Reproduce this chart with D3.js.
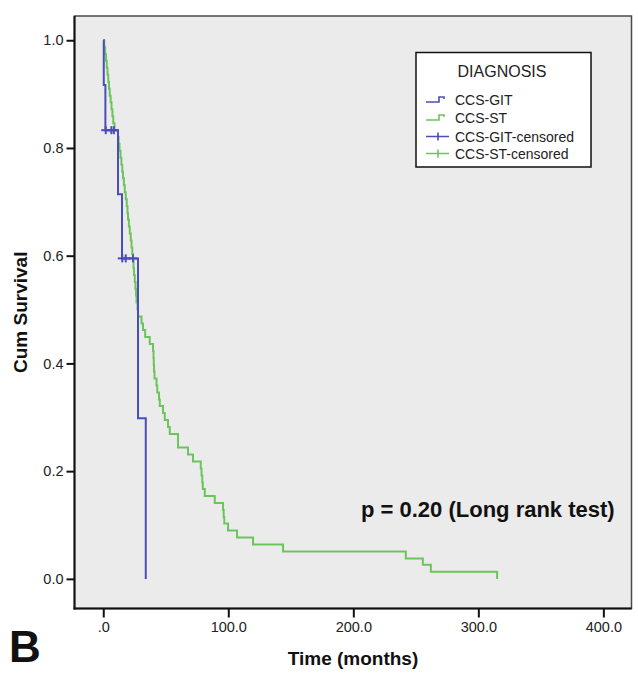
<!DOCTYPE html>
<html>
<head>
<meta charset="utf-8">
<script src="https://cdn.jsdelivr.net/npm/d3@7"></script>
<style>
  html, body { margin: 0; padding: 0; background: #ffffff; }
  svg { display: block; font-family: Arial, "Liberation Sans", Helvetica, sans-serif; }
</style>
</head>
<body>
<svg id="chart" width="638" height="673"></svg>
<script>
// Kaplan-Meier survival by diagnosis group

const groups = ["CCS-GIT", "CCS-ST"];
const legendLabels = ["CCS-GIT", "CCS-ST", "CCS-GIT-censored", "CCS-ST-censored"];

// CCS-GIT: step times (months) and survival after each step
const gitTimes = [0, 0.4, 1.7, 11.8, 15.0, 27.8, 34.0];
const gitSurv  = [1.0, 0.917, 0.833, 0.714, 0.595, 0.298, 0.0];
// CCS-GIT censored observations
const gitCensorTimes = [2.0, 6.5, 8.5, 15.2, 18.0, 23.8];
const gitCensorSurv  = [0.833, 0.833, 0.833, 0.595, 0.595, 0.595];

// CCS-ST: step times (months) and survival after each step
const stTimes = [0, 0.8, 1.5, 2.2, 2.8, 3.4, 4.0, 4.6, 5.2, 5.9, 6.6, 7.3, 8.0, 9.0,
  11.8, 12.3, 13.0, 13.8, 14.5, 15.2, 15.8, 16.5, 17.2, 18.0, 18.8, 19.4, 19.8,
  20.5, 21.2, 22.0, 22.6, 23.2, 23.8, 24.2, 24.6, 25.2, 25.8, 26.2, 26.6, 27.4, 27.8,
  30.6, 31.8, 33.5, 37.2, 39.8, 40.2, 40.4, 40.6, 41.0, 42.6, 43.2, 44.6, 45.2,
  47.8, 49.2, 51.8, 53.2, 59.8, 67.8, 71.8, 78.0, 78.6, 79.2, 79.6, 81.2, 89.2,
  95.8, 96.3, 96.8, 99.8, 107.0, 119.8, 143.8, 242.0, 255.6, 262.0, 315.0];
const stSurv = [1.0, 0.987, 0.974, 0.962, 0.949, 0.936, 0.923, 0.910, 0.897, 0.885, 0.872, 0.859, 0.846, 0.833,
  0.821, 0.808, 0.795, 0.782, 0.769, 0.756, 0.744, 0.731, 0.718, 0.705, 0.692, 0.679, 0.667,
  0.654, 0.641, 0.628, 0.615, 0.603, 0.590, 0.577, 0.564, 0.551, 0.538, 0.526, 0.513, 0.500, 0.487,
  0.474, 0.462, 0.449, 0.436, 0.423, 0.410, 0.397, 0.385, 0.372, 0.359, 0.346, 0.333, 0.321,
  0.308, 0.295, 0.282, 0.269, 0.244, 0.231, 0.218, 0.205, 0.192, 0.179, 0.167, 0.154, 0.141,
  0.128, 0.115, 0.103, 0.090, 0.077, 0.064, 0.051, 0.038, 0.026, 0.013, 0.0];

// Axis ticks
const xTicks = [0, 100, 200, 300, 400];
const xTickLabels = [".0", "100.0", "200.0", "300.0", "400.0"];
const yTicks = [0, 0.2, 0.4, 0.6, 0.8, 1.0];
const yTickLabels = ["0.0", "0.2", "0.4", "0.6", "0.8", "1.0"];

const colors = { "CCS-GIT": "#4b4db8", "CCS-ST": "#6cc55c" };

const svg = d3.select("#chart");

// plot frame in pixels
const frame = { left: 74.5, right: 631.5, top: 16, bottom: 608.5 };

const x = d3.scaleLinear().domain([-23, 422.5]).range([frame.left, frame.right]);
const y = d3.scaleLinear().domain([-0.055, 1.045]).range([frame.bottom, frame.top]);

// plot background
svg.append("rect")
  .attr("x", frame.left).attr("y", frame.top)
  .attr("width", frame.right - frame.left).attr("height", frame.bottom - frame.top)
  .attr("fill", "#ebebeb")
  .attr("stroke", "#4a4a4a").attr("stroke-width", 1.5);

// axes
const xAxis = d3.axisBottom(x).tickValues(xTicks)
  .tickFormat((d, i) => xTickLabels[i]).tickSize(9).tickPadding(4);
const yAxis = d3.axisLeft(y).tickValues(yTicks)
  .tickFormat((d, i) => yTickLabels[i]).tickSize(8).tickPadding(3);

const gx = svg.append("g").attr("transform", `translate(0,${frame.bottom})`).call(xAxis);
const gy = svg.append("g").attr("transform", `translate(${frame.left},0)`).call(yAxis);
[gx, gy].forEach(g => {
  g.select(".domain").remove();
  g.selectAll(".tick line").attr("stroke", "#111").attr("stroke-width", 2);
  g.selectAll(".tick text").attr("fill", "#222").style("font-size", "14.5px")
    .style("font-family", "Arial, 'Liberation Sans', sans-serif");
});
// left and bottom axis lines
svg.append("line").attr("x1", frame.left).attr("x2", frame.left)
  .attr("y1", frame.top).attr("y2", frame.bottom + 1)
  .attr("stroke", "#111").attr("stroke-width", 2);
svg.append("line").attr("x1", frame.left - 1).attr("x2", frame.right)
  .attr("y1", frame.bottom).attr("y2", frame.bottom)
  .attr("stroke", "#111").attr("stroke-width", 2);

// survival curves
const line = d3.line().x(d => x(d[0])).y(d => y(d[1])).curve(d3.curveStepAfter);
const series = [
  { name: "CCS-ST", pts: d3.zip(stTimes, stSurv) },
  { name: "CCS-GIT", pts: d3.zip(gitTimes, gitSurv) }
];
svg.append("g").selectAll("path").data(series).join("path")
  .attr("d", d => line(d.pts))
  .attr("fill", "none")
  .attr("stroke", d => colors[d.name])
  .attr("stroke-width", 2);

// censor marks
const censors = d3.zip(gitCensorTimes, gitCensorSurv);
const cg = svg.append("g").attr("stroke", colors["CCS-GIT"]).attr("stroke-width", 2);
cg.selectAll("line.h").data(censors).join("line").attr("class", "h")
  .attr("x1", d => x(d[0]) - 4.5).attr("x2", d => x(d[0]) + 4.5)
  .attr("y1", d => y(d[1])).attr("y2", d => y(d[1]));
cg.selectAll("line.v").data(censors).join("line").attr("class", "v")
  .attr("x1", d => x(d[0])).attr("x2", d => x(d[0]))
  .attr("y1", d => y(d[1]) - 4).attr("y2", d => y(d[1]) + 4);

// legend
const lg = svg.append("g");
lg.append("rect").attr("x", 416).attr("y", 52.5).attr("width", 175).attr("height", 114.5)
  .attr("fill", "#ffffff").attr("stroke", "#111").attr("stroke-width", 1.5);
lg.append("text").attr("x", 502).attr("y", 77).attr("text-anchor", "middle")
  .style("font-size", "16px").attr("fill", "#222").text("DIAGNOSIS");
const itemY = [100, 118, 136.5, 153.5];
legendLabels.forEach((lab, i) => {
  const cy = itemY[i];
  const col = colors[groups[i % 2]];
  if (i < 2) {
    lg.append("path")
      .attr("d", `M426,${cy + 2} H439 V${cy - 3} H444 V${cy - 1}`)
      .attr("fill", "none").attr("stroke", col).attr("stroke-width", 1.6);
  } else {
    lg.append("path")
      .attr("d", `M426,${cy} H449 M438,${cy - 4} V${cy + 4}`)
      .attr("fill", "none").attr("stroke", col).attr("stroke-width", 1.6);
  }
  lg.append("text").attr("x", 455).attr("y", cy + 5)
    .style("font-size", "14px").attr("fill", "#222").text(lab);
});

// test annotation
svg.append("text").attr("x", 361).attr("y", 517)
  .style("font-size", "22px").style("font-weight", "bold").attr("fill", "#111")
  .text("p = 0.20 (Long rank test)");

// axis titles
svg.append("text").attr("x", (frame.left + frame.right) / 2).attr("y", 665)
  .attr("text-anchor", "middle").style("font-size", "19px").style("font-weight", "bold")
  .attr("fill", "#111").text("Time (months)");
svg.append("text")
  .attr("transform", `translate(27,${(frame.top + frame.bottom) / 2}) rotate(-90)`)
  .attr("text-anchor", "middle").style("font-size", "19px").style("font-weight", "bold")
  .attr("fill", "#111").text("Cum Survival");

// panel letter
svg.append("text").attr("x", 9).attr("y", 662)
  .style("font-size", "44px").style("font-weight", "bold").attr("fill", "#111").text("B");
</script>
</body>
</html>
